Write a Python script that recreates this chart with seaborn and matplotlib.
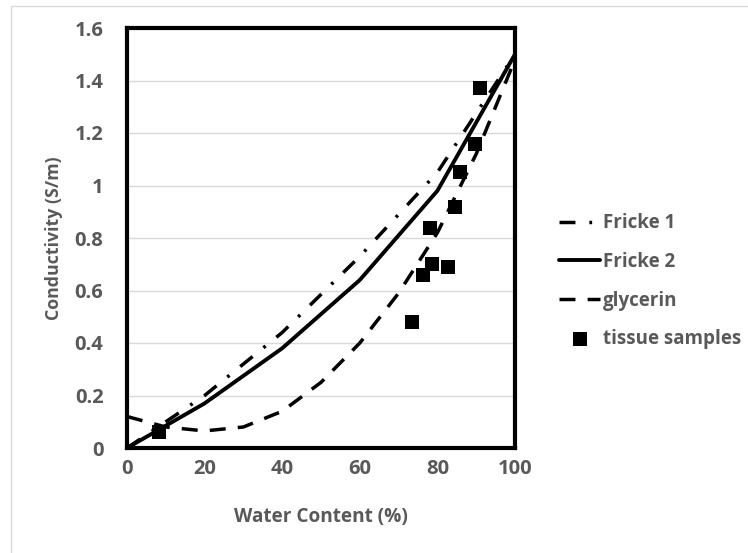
import matplotlib
matplotlib.use("Agg")
import matplotlib.pyplot as plt
from matplotlib.patches import Rectangle
import seaborn as sns
import pandas as pd

# Model curves: conductivity (S/m) vs water content (%)
water_model = [0, 20, 40, 60, 80, 100]
fricke1 = [0.0, 0.20, 0.44, 0.73, 1.05, 1.50]
fricke2 = [0.0, 0.17, 0.38, 0.64, 0.98, 1.50]

water_glyc = [0, 10, 20, 30, 40, 50, 60, 70, 80, 90, 100]
glycerin = [0.12, 0.08, 0.065, 0.08, 0.14, 0.25, 0.40, 0.59, 0.82, 1.12, 1.48]

# Measured tissue samples
tissue_water = [8.3, 91.0, 89.7, 85.8, 84.5, 78.1, 78.5, 82.8, 76.4, 73.4]
tissue_cond = [0.06, 1.37, 1.16, 1.05, 0.92, 0.84, 0.70, 0.69, 0.66, 0.48]

x_ticks = [0, 20, 40, 60, 80, 100]
y_ticks = [0, 0.2, 0.4, 0.6, 0.8, 1.0, 1.2, 1.4, 1.6]
y_tick_labels = ["0", "0.2", "0.4", "0.6", "0.8", "1", "1.2", "1.4", "1.6"]

sns.set_style("white")
plt.rcParams["font.family"] = ["Open Sans", "DejaVu Sans"]
plt.rcParams["font.weight"] = "bold"

grey_text = "#595959"

fig = plt.figure(figsize=(7.48, 5.53), dpi=100)
fig.patches.append(Rectangle((11 / 748, -0.1), 1.2, 1.1 - 6 / 553,
                             transform=fig.transFigure, fill=False,
                             edgecolor="#d9d9d9", linewidth=1.0))
ax = fig.add_axes([127 / 748, 105 / 553, 388 / 748, 420 / 553])

df1 = pd.DataFrame({"water": water_model, "cond": fricke1})
df2 = pd.DataFrame({"water": water_model, "cond": fricke2})
dfg = pd.DataFrame({"water": water_glyc, "cond": glycerin})
dft = pd.DataFrame({"water": tissue_water, "cond": tissue_cond})

sns.lineplot(data=df1, x="water", y="cond", ax=ax, color="black", lw=2.5,
             label="Fricke 1")
ax.lines[-1].set_dashes([4.6, 4, 0.8, 4])
sns.lineplot(data=df2, x="water", y="cond", ax=ax, color="black", lw=2.8,
             label="Fricke 2")
sns.lineplot(data=dfg, x="water", y="cond", ax=ax, color="black", lw=2.5,
             label="glycerin")
ax.lines[-1].set_dashes([4.6, 3.5])
sns.scatterplot(data=dft, x="water", y="cond", ax=ax, color="black",
                marker="s", s=100, edgecolor="black", linewidth=0,
                label="tissue samples", zorder=5)

ax.set_xlim(0, 100)
ax.set_ylim(0, 1.6)
ax.set_xticks(x_ticks)
ax.set_yticks(y_ticks)
ax.set_yticklabels(y_tick_labels)
ax.tick_params(axis="both", length=0, labelsize=14.5, labelcolor=grey_text)
ax.tick_params(axis="y", pad=17)
ax.tick_params(axis="x", pad=8)
for lab in ax.get_xticklabels() + ax.get_yticklabels():
    lab.set_fontweight("bold")
ax.grid(axis="y", color="#d9d9d9", linewidth=1.0)
ax.set_axisbelow(True)
for sp in ax.spines.values():
    sp.set_visible(True)
    sp.set_color("black")
    sp.set_linewidth(3.0)

ax.set_xlabel("Water Content (%)", fontsize=13.7, fontweight="bold",
              color=grey_text, labelpad=20)
ax.set_ylabel("Conductivity (S/m)", fontsize=12.8, fontweight="bold",
              color=grey_text, labelpad=8)

leg = ax.legend(loc="center left", bbox_to_anchor=(1.07, 0.397), frameon=False,
                handlelength=2.2, handletextpad=0.15,
                labelspacing=1.0, prop={"weight": "bold", "size": 13.5})
for t in leg.get_texts():
    t.set_color(grey_text)

fig.savefig("out.png", dpi=100)
